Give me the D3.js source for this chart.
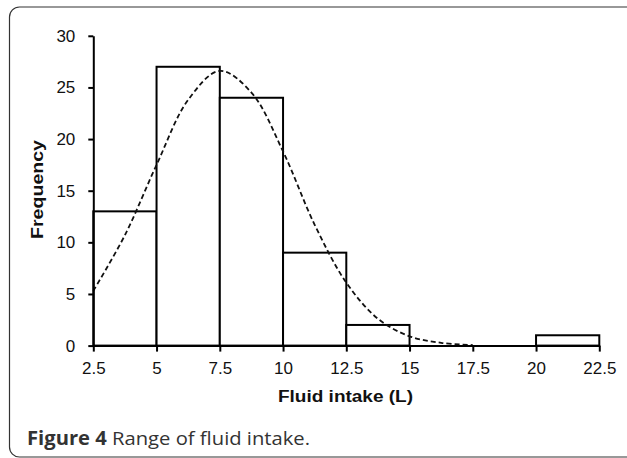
<!DOCTYPE html>
<html>
<head>
<meta charset="utf-8">
<script src="https://cdn.jsdelivr.net/npm/d3@7"></script>
<style>
  body { margin: 0; background: #fff; }
  svg { display: block; }
</style>
</head>
<body>
<script>
// histogram bins (lower / upper edge, L) and counts
const binStart = [2.5, 5, 7.5, 10, 12.5, 15, 17.5, 20];
const binEnd   = [5, 7.5, 10, 12.5, 15, 17.5, 20, 22.5];
const counts   = [13, 27, 24, 9, 2, 0, 0, 1];

// dashed normal curve
const curveX = [2.5, 3.75, 5, 6.25, 7.5, 8.75, 10, 11.25, 12.5, 13.75, 15, 16.25, 17.5];
const curveY = [5.3, 10.7, 17.5, 23.8, 26.6, 24.5, 18.8, 11.7, 6.1, 2.6, 0.9, 0.27, 0.05];

const xTicks = [2.5, 5, 7.5, 10, 12.5, 15, 17.5, 20, 22.5];
const yTicks = [0, 5, 10, 15, 20, 25, 30];

const width = 627, height = 458;

const svg = d3.select("body")
	.append("svg")
	.attr("width", width)
	.attr("height", height);

// rounded figure frame
svg.append("rect")
	.attr("x", 9.5)
	.attr("y", 7)
	.attr("width", 627)
	.attr("height", 450)
	.attr("rx", 10)
	.attr("fill", "none")
	.attr("stroke", "#333")
	.attr("stroke-width", 1.2);

const x = d3.scaleLinear().domain([2.5, 22.5]).range([93.3, 599.3]);
const y = d3.scaleLinear().domain([0, 30]).range([345.6, 35.8]);

// bars
svg.selectAll("rect.bar")
	.data(counts)
	.join("rect")
	.attr("class", "bar")
	.attr("x", (d, i) => x(binStart[i]))
	.attr("y", d => y(d))
	.attr("width", (d, i) => x(binEnd[i]) - x(binStart[i]))
	.attr("height", d => y(0) - y(d))
	.attr("fill", "#fff")
	.attr("stroke", d => d > 0 ? "#000" : "none")
	.attr("stroke-width", 2);

// dashed curve
const line = d3.line()
	.x(d => x(d[0]))
	.y(d => y(d[1]))
	.curve(d3.curveCatmullRom);

svg.append("path")
	.datum(curveX.map((v, i) => [v, curveY[i]]))
	.attr("d", line)
	.attr("fill", "none")
	.attr("stroke", "#111")
	.attr("stroke-width", 1.8)
	.attr("stroke-dasharray", "5,3");

// axes
const xAxis = svg.append("g")
	.attr("transform", `translate(0,${y(0)})`)
	.call(d3.axisBottom(x).tickValues(xTicks).tickFormat(d => String(d))
		.tickSize(6).tickSizeOuter(0).tickPadding(10));

const yAxis = svg.append("g")
	.attr("transform", `translate(${x(2.5)},0)`)
	.call(d3.axisLeft(y).tickValues(yTicks).tickSize(5).tickSizeOuter(0).tickPadding(13));

[xAxis, yAxis].forEach(g => {
	g.select(".domain").attr("stroke", "#000").attr("stroke-width", 2);
	g.selectAll(".tick line").attr("stroke", "#000").attr("stroke-width", 2);
	g.selectAll(".tick text")
		.attr("fill", "#111")
		.style("font-family", "'Liberation Sans', Arial, sans-serif")
		.style("font-size", "17px");
});

// axis titles
svg.append("text")
	.attr("x", 345.5)
	.attr("y", 402)
	.attr("text-anchor", "middle")
	.attr("textLength", 135)
	.attr("lengthAdjust", "spacingAndGlyphs")
	.style("font-family", "'Liberation Sans', Arial, sans-serif")
	.style("font-weight", "bold")
	.style("font-size", "16px")
	.attr("fill", "#111")
	.text("Fluid intake (L)");

svg.append("text")
	.attr("transform", "translate(43,189.5) rotate(-90)")
	.attr("text-anchor", "middle")
	.attr("textLength", 99)
	.attr("lengthAdjust", "spacingAndGlyphs")
	.style("font-family", "'Liberation Sans', Arial, sans-serif")
	.style("font-weight", "bold")
	.style("font-size", "16px")
	.attr("fill", "#111")
	.text("Frequency");

// caption
const cap = svg.append("text")
	.attr("x", 27)
	.attr("y", 445)
	.attr("textLength", 283)
	.attr("lengthAdjust", "spacingAndGlyphs")
	.style("font-family", "'Open Sans', 'Noto Sans', sans-serif")
	.style("font-size", "19px")
	.attr("fill", "#333");
cap.append("tspan").style("font-weight", "bold").text("Figure 4");
cap.append("tspan").text(" Range of fluid intake.");
</script>
</body>
</html>
